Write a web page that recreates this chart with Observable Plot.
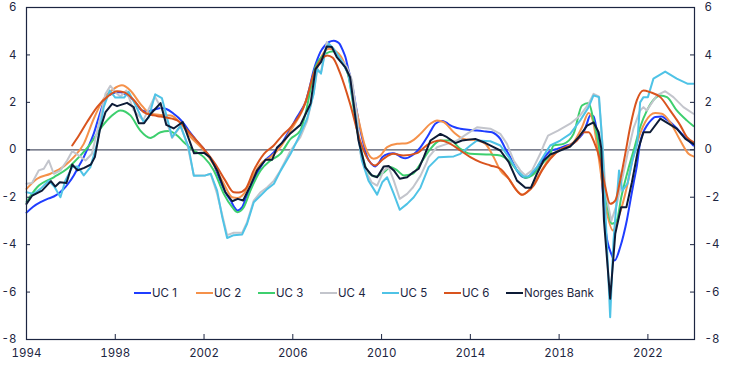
<!DOCTYPE html>
<html><head><meta charset="utf-8">
<script src="https://cdn.jsdelivr.net/npm/d3@7"></script>
<script src="https://cdn.jsdelivr.net/npm/@observablehq/plot@0.6"></script>
<style>
body{margin:0;background:#fff;}
#wrap{position:relative;width:750px;height:366px;font-family:Inter,"Liberation Sans",sans-serif;}
.legend{position:absolute;left:134px;top:286px;display:flex;}
.item{width:62px;flex:0 0 62px;display:flex;align-items:center;font-size:11.5px;color:#1c2541;white-space:nowrap;overflow:visible;}
.sw{width:17px;height:2.5px;margin-right:1px;flex:0 0 17px;display:inline-block;}
</style></head><body><div id="wrap"></div>
<script>
const xTicks = [1994, 1998, 2002, 2006, 2010, 2014, 2018, 2022];
const yTicks = [-8, -6, -4, -2, 0, 2, 4, 6];
const seriesNames = ["UC 1", "UC 2", "UC 3", "UC 4", "UC 5", "UC 6", "Norges Bank"];
const seriesColors = ["#1f3dff", "#f5914a", "#3dcf6e", "#c3c5cc", "#4fc3e6", "#d9541e", "#0d1b36"];

const uc1 = [[1994.0,-2.65],[1994.3,-2.4],[1994.63,-2.21],[1995.0,-2.05],[1995.23,-1.97],[1995.5,-1.8],[1995.68,-1.65],[1995.9,-1.4],[1996.13,-1.08],[1996.35,-0.7],[1996.58,-0.31],[1996.8,0.15],[1997.03,0.68],[1997.25,1.35],[1997.48,2.0],[1997.7,2.3],[1997.86,2.36],[1998.05,2.43],[1998.23,2.43],[1998.45,2.35],[1998.68,2.22],[1998.95,1.95],[1999.2,1.66],[1999.45,1.62],[1999.66,1.66],[1999.85,1.72],[2000.04,1.76],[2000.3,1.72],[2000.63,1.52],[2000.85,1.35],[2001.09,1.1],[2001.3,0.82],[2001.54,0.53],[2001.75,0.28],[2001.99,0.04],[2002.2,-0.25],[2002.44,-0.59],[2002.6,-1.0],[2002.82,-1.51],[2003.0,-1.85],[2003.2,-2.14],[2003.35,-2.4],[2003.5,-2.56],[2003.72,-2.42],[2003.9,-2.0],[2004.1,-1.58],[2004.3,-1.15],[2004.55,-0.73],[2004.75,-0.45],[2005.0,-0.24],[2005.2,-0.05],[2005.44,0.18],[2005.65,0.5],[2005.9,0.89],[2006.19,1.38],[2006.4,1.7],[2006.57,2.0],[2006.75,2.6],[2006.94,3.35],[2007.1,3.8],[2007.24,4.12],[2007.45,4.4],[2007.62,4.54],[2007.84,4.6],[2008.0,4.55],[2008.11,4.47],[2008.25,4.2],[2008.37,3.91],[2008.5,3.4],[2008.67,2.78],[2008.85,1.8],[2009.05,0.81],[2009.2,0.2],[2009.35,-0.31],[2009.55,-0.6],[2009.72,-0.7],[2009.88,-0.55],[2010.03,-0.31],[2010.32,-0.17],[2010.5,-0.15],[2010.7,-0.2],[2010.9,-0.32],[2011.07,-0.36],[2011.37,-0.24],[2011.55,-0.1],[2011.75,0.1],[2012.05,0.53],[2012.25,0.85],[2012.42,1.1],[2012.73,1.21],[2012.9,1.15],[2013.1,1.03],[2013.3,0.95],[2013.55,0.89],[2013.9,0.84],[2014.3,0.81],[2014.7,0.77],[2014.98,0.74],[2015.15,0.65],[2015.35,0.46],[2015.55,0.1],[2015.8,-0.31],[2016.0,-0.7],[2016.18,-0.99],[2016.48,-1.18],[2016.78,-1.01],[2017.0,-0.75],[2017.23,-0.45],[2017.6,-0.06],[2017.85,0.02],[2018.05,0.08],[2018.35,0.18],[2018.65,0.28],[2018.9,0.5],[2019.1,0.74],[2019.25,1.1],[2019.4,1.45],[2019.55,1.42],[2019.68,0.9],[2019.78,0.25],[2019.92,-1.16],[2020.12,-3.54],[2020.35,-4.39],[2020.5,-4.67],[2020.75,-4.11],[2020.9,-3.6],[2021.05,-2.98],[2021.2,-2.2],[2021.35,-1.43],[2021.5,-0.7],[2021.65,0.3],[2021.8,0.75],[2021.96,1.03],[2022.15,1.25],[2022.33,1.38],[2022.63,1.4],[2022.8,1.3],[2023.0,1.17],[2023.25,0.95],[2023.46,0.74],[2023.65,0.55],[2023.83,0.39],[2024.05,0.18]];

const uc2 = [[1994.0,-1.65],[1994.48,-1.22],[1995.08,-1.01],[1995.68,-0.7],[1996.13,-0.31],[1996.58,0.25],[1997.03,1.31],[1997.48,2.15],[1997.93,2.57],[1998.3,2.72],[1998.68,2.5],[1999.13,1.94],[1999.58,1.52],[2000.04,1.47],[2000.5,1.45],[2000.94,1.12],[2001.39,0.55],[2001.99,-0.03],[2002.5,-0.73],[2002.89,-1.43],[2003.27,-2.0],[2003.5,-2.03],[2003.79,-1.86],[2004.17,-1.16],[2004.55,-0.59],[2005.0,-0.31],[2005.44,0.11],[2005.9,0.81],[2006.4,1.6],[2006.94,3.0],[2007.3,3.95],[2007.62,4.26],[2008.07,4.05],[2008.44,3.35],[2008.9,1.52],[2009.27,0.11],[2009.64,-0.38],[2009.95,-0.24],[2010.25,0.11],[2010.7,0.25],[2011.15,0.28],[2011.45,0.42],[2011.75,0.67],[2012.2,1.1],[2012.5,1.24],[2012.8,1.17],[2013.25,0.74],[2013.7,0.46],[2014.3,0.39],[2014.68,0.25],[2015.05,-0.31],[2015.35,-0.87],[2015.73,-1.22],[2016.1,-1.72],[2016.33,-1.9],[2016.63,-1.72],[2017.0,-1.22],[2017.3,-0.73],[2017.6,-0.31],[2018.05,0.0],[2018.65,0.32],[2019.03,0.95],[2019.33,1.55],[2019.55,1.1],[2019.78,-0.31],[2020.1,-2.4],[2020.43,-3.4],[2020.68,-2.84],[2021.05,-1.58],[2021.3,-0.45],[2021.5,0.25],[2021.88,1.17],[2022.33,1.55],[2022.63,1.52],[2023.0,1.17],[2023.46,0.39],[2023.83,-0.17],[2024.05,-0.28]];

const uc3 = [[1994.0,-2.2],[1994.48,-1.58],[1995.23,-1.16],[1995.83,-0.8],[1996.36,-0.31],[1996.88,0.25],[1997.33,0.89],[1997.78,1.38],[1998.23,1.66],[1998.68,1.45],[1999.13,0.81],[1999.58,0.5],[2000.04,0.74],[2000.41,0.79],[2000.79,0.6],[2001.09,0.32],[2001.54,-0.03],[2001.99,-0.31],[2002.44,-0.87],[2002.89,-1.86],[2003.27,-2.42],[2003.5,-2.63],[2003.79,-2.42],[2004.09,-1.72],[2004.55,-0.87],[2005.0,-0.45],[2005.44,-0.17],[2005.9,0.46],[2006.34,0.81],[2006.57,1.52],[2007.02,3.49],[2007.47,4.05],[2007.84,4.16],[2008.1,3.84],[2008.48,3.21],[2008.9,0.81],[2009.35,-0.87],[2009.72,-1.13],[2010.1,-0.95],[2010.4,-0.73],[2010.7,-0.87],[2011.0,-1.08],[2011.4,-1.01],[2011.75,-0.59],[2012.2,0.04],[2012.65,0.39],[2013.1,0.39],[2013.55,0.04],[2014.0,-0.17],[2014.9,-0.2],[2015.35,-0.24],[2015.8,-0.52],[2016.18,-0.95],[2016.48,-1.18],[2016.78,-1.08],[2017.23,-0.59],[2017.6,-0.17],[2017.75,0.18],[2018.2,0.25],[2018.65,0.67],[2019.03,1.87],[2019.33,1.97],[2019.55,1.24],[2019.78,0.25],[2019.95,-0.8],[2020.16,-2.28],[2020.38,-3.12],[2020.6,-2.98],[2020.8,-2.0],[2021.1,-0.87],[2021.4,0.11],[2021.65,0.95],[2021.96,1.66],[2022.26,2.11],[2022.56,2.29],[2022.86,2.22],[2023.3,1.66],[2023.75,1.24],[2024.05,1.0]];

const uc4 = [[1994.0,-1.43],[1994.25,-1.4],[1994.55,-0.87],[1994.78,-0.8],[1995.0,-0.45],[1995.23,-1.01],[1995.53,-0.87],[1995.83,-0.45],[1996.06,-0.06],[1996.36,-0.24],[1996.66,-0.45],[1996.95,-0.17],[1997.26,1.1],[1997.56,2.36],[1997.78,2.7],[1998.0,2.43],[1998.23,2.25],[1998.5,2.5],[1998.83,1.66],[1999.26,1.24],[1999.78,2.25],[2000.17,1.6],[2000.56,0.5],[2000.94,1.0],[2001.24,0.25],[2001.54,-1.08],[2002.06,-1.08],[2002.3,-1.01],[2002.59,-1.86],[2002.82,-2.75],[2003.04,-3.6],[2003.34,-3.5],[2003.72,-3.5],[2003.94,-3.05],[2004.24,-2.14],[2004.55,-1.79],[2004.85,-1.58],[2005.15,-1.3],[2005.44,-0.87],[2005.9,-0.03],[2006.34,0.53],[2006.64,1.2],[2006.94,2.4],[2007.09,3.3],[2007.27,3.28],[2007.53,4.54],[2007.76,4.33],[2008.1,3.9],[2008.44,3.49],[2008.67,2.92],[2008.9,1.38],[2009.05,-0.17],[2009.35,-1.01],[2009.55,-1.37],[2009.8,-1.51],[2010.1,-0.87],[2010.32,-0.73],[2010.55,-1.3],[2010.82,-2.07],[2011.15,-1.86],[2011.42,-1.58],[2011.75,-1.1],[2012.0,-0.6],[2012.12,-0.31],[2012.5,0.11],[2012.95,0.25],[2013.4,0.39],[2013.85,0.67],[2014.3,0.95],[2014.9,0.89],[2015.35,0.67],[2015.65,0.25],[2015.95,-0.45],[2016.25,-0.87],[2016.48,-1.08],[2016.78,-0.87],[2017.15,-0.17],[2017.3,0.18],[2017.5,0.6],[2017.95,0.81],[2018.5,1.1],[2018.95,1.45],[2019.33,1.94],[2019.55,2.36],[2019.78,2.25],[2019.9,0.95],[2020.1,-1.8],[2020.35,-3.0],[2020.6,-2.3],[2020.85,-1.2],[2021.1,-0.1],[2021.35,0.9],[2021.65,1.66],[2021.8,1.8],[2021.95,1.66],[2022.25,2.08],[2022.4,2.29],[2022.78,2.47],[2023.15,2.22],[2023.6,1.8],[2024.05,1.52]];

const uc5 = [[1994.0,-1.79],[1994.33,-1.86],[1994.63,-1.65],[1995.0,-1.3],[1995.25,-1.55],[1995.53,-2.0],[1995.75,-1.3],[1996.06,-0.73],[1996.3,-0.7],[1996.58,-1.08],[1996.88,-0.73],[1997.18,0.25],[1997.48,1.8],[1997.75,2.5],[1998.0,2.2],[1998.4,2.2],[1998.6,2.45],[1998.85,2.0],[1999.28,1.17],[1999.5,1.35],[1999.8,2.34],[2000.1,2.18],[2000.56,0.53],[2000.94,1.02],[2001.3,0.11],[2001.54,-1.1],[2002.06,-1.08],[2002.3,-1.01],[2002.59,-1.72],[2002.82,-2.84],[2003.04,-3.72],[2003.34,-3.6],[2003.72,-3.57],[2003.94,-3.12],[2004.24,-2.21],[2004.55,-1.93],[2004.85,-1.65],[2005.15,-1.43],[2005.44,-0.9],[2005.9,-0.17],[2006.2,0.4],[2006.64,1.31],[2006.94,2.36],[2007.09,3.42],[2007.27,3.21],[2007.47,4.19],[2007.62,4.47],[2007.84,4.26],[2008.14,3.84],[2008.5,3.21],[2008.81,1.52],[2009.11,-0.45],[2009.41,-1.3],[2009.8,-1.89],[2010.03,-1.37],[2010.25,-1.16],[2010.55,-1.86],[2010.82,-2.53],[2011.15,-2.28],[2011.45,-2.0],[2011.75,-1.6],[2012.12,-0.73],[2012.57,-0.31],[2013.25,-0.28],[2013.55,-0.17],[2014.0,0.18],[2014.3,0.39],[2014.9,0.36],[2015.35,0.18],[2015.73,-0.31],[2016.1,-0.87],[2016.4,-1.13],[2016.63,-1.13],[2017.0,-0.73],[2017.45,-0.03],[2017.6,0.18],[2018.05,0.39],[2018.5,0.67],[2018.95,1.24],[2019.33,1.8],[2019.55,2.29],[2019.8,2.22],[2019.95,0.2],[2020.3,-7.06],[2020.45,-3.83],[2020.7,-0.87],[2020.85,-1.72],[2021.08,-1.43],[2021.3,-0.45],[2021.52,0.25],[2021.65,2.0],[2021.8,2.22],[2022.0,2.22],[2022.25,3.0],[2022.78,3.3],[2023.3,3.0],[2023.8,2.78],[2024.05,2.78]];

const uc6 = [[1996.06,0.18],[1996.36,0.6],[1996.73,1.17],[1997.18,1.8],[1997.63,2.22],[1998.08,2.47],[1998.38,2.43],[1998.83,2.1],[1999.28,1.59],[1999.73,1.45],[2000.04,1.4],[2000.79,1.24],[2001.39,0.67],[2001.99,0.04],[2002.5,-0.59],[2002.96,-1.3],[2003.34,-1.79],[2003.57,-1.8],[2003.87,-1.65],[2004.24,-0.87],[2004.7,-0.17],[2005.14,0.18],[2005.52,0.6],[2005.9,0.95],[2006.57,2.0],[2006.94,3.21],[2007.32,3.85],[2007.55,3.98],[2007.8,3.88],[2008.14,3.21],[2008.58,1.94],[2009.03,0.39],[2009.33,-0.31],[2009.7,-0.66],[2010.08,-0.38],[2010.53,-0.17],[2010.98,-0.24],[2011.6,-0.14],[2012.05,0.2],[2012.65,0.39],[2013.1,0.25],[2013.55,-0.03],[2014.0,-0.31],[2014.45,-0.52],[2014.9,-0.66],[2015.35,-0.8],[2015.73,-1.22],[2016.03,-1.65],[2016.33,-1.9],[2016.55,-1.79],[2016.85,-1.51],[2017.23,-0.87],[2017.6,-0.38],[2018.05,0.0],[2018.5,0.18],[2018.8,0.39],[2019.1,0.74],[2019.33,0.74],[2019.55,0.39],[2019.85,-0.45],[2020.08,-1.58],[2020.3,-2.28],[2020.53,-2.14],[2020.75,-1.3],[2020.98,-0.17],[2021.2,0.95],[2021.5,2.08],[2021.8,2.5],[2022.1,2.43],[2022.56,2.22],[2023.0,1.66],[2023.46,1.03],[2023.76,0.53],[2024.05,0.32]];

const norgesBank = [[1994.0,-2.28],[1994.26,-1.93],[1994.7,-1.72],[1995.1,-1.32],[1995.3,-1.55],[1995.5,-1.37],[1995.8,-1.4],[1996.06,-0.62],[1996.3,-0.87],[1996.6,-0.76],[1996.9,-0.62],[1997.08,-0.31],[1997.3,0.81],[1997.56,1.59],[1997.86,1.94],[1998.08,1.84],[1998.53,1.98],[1998.83,1.8],[1999.06,1.12],[1999.3,1.12],[1999.6,1.52],[2000.04,1.97],[2000.3,1.05],[2000.63,0.9],[2001.04,1.17],[2001.55,-0.15],[2001.99,-0.12],[2002.26,-0.31],[2002.59,-0.87],[2002.96,-1.79],[2003.27,-2.17],[2003.52,-2.07],[2003.76,-2.14],[2004.09,-1.51],[2004.39,-0.87],[2004.77,-0.42],[2005.07,-0.42],[2005.29,0.1],[2005.52,0.3],[2005.9,0.7],[2006.34,1.05],[2006.57,1.5],[2006.8,1.95],[2007.02,3.4],[2007.27,3.7],[2007.53,4.36],[2007.76,4.33],[2007.98,3.91],[2008.36,3.49],[2008.58,3.06],[2008.96,0.39],[2009.26,-0.73],[2009.56,-1.08],[2009.8,-1.16],[2010.1,-0.7],[2010.32,-0.68],[2010.55,-0.87],[2010.82,-1.22],[2011.15,-1.16],[2011.42,-0.95],[2011.67,-0.8],[2011.9,-0.31],[2012.2,0.39],[2012.65,0.67],[2012.95,0.53],[2013.33,0.28],[2013.62,0.39],[2014.22,0.46],[2014.6,0.32],[2014.98,0.14],[2015.35,-0.03],[2015.73,-0.52],[2016.1,-1.3],[2016.48,-1.6],[2016.73,-1.6],[2017.0,-1.01],[2017.3,-0.45],[2017.6,-0.2],[2018.05,-0.03],[2018.5,0.14],[2018.88,0.53],[2019.26,1.02],[2019.55,1.16],[2019.78,0.74],[2019.9,0.05],[2020.02,-2.98],[2020.3,-6.28],[2020.53,-3.54],[2020.79,-2.42],[2021.03,-2.42],[2021.28,-1.37],[2021.55,-0.03],[2021.8,0.74],[2022.1,0.74],[2022.56,1.31],[2022.93,1.1],[2023.3,0.89],[2023.69,0.46],[2024.05,0.25]];

const seriesData = [uc1, uc2, uc3, uc4, uc5, uc6, norgesBank];
const smoothFlags = [true, true, true, false, false, true, false];
const navy = "#1c2541";

const lineMarks = seriesData.map((s, i) => Plot.line(s, {
  x: d => d[0], y: d => d[1],
  stroke: seriesColors[i], strokeWidth: 2,
  curve: smoothFlags[i] ? "monotone-x" : "linear"
}));

const chart = Plot.plot({
  width: 750, height: 366,
  marginLeft: 26, marginRight: 56, marginTop: 7, marginBottom: 27,
  style: {fontFamily: "Inter, 'Liberation Sans', sans-serif", fontSize: "11.5px", color: navy, background: "#fff"},
  x: {domain: [1994, 2024.1]},
  y: {domain: [-8, 6]},
  marks: [
    Plot.ruleY([0], {stroke: "#50566a", strokeWidth: 1.2}),
    ...lineMarks,
    Plot.frame({stroke: navy, strokeWidth: 1.2}),
    Plot.tickX(xTicks, {x: d => d, stroke: navy, insetTop: 327}),
    Plot.tickY(yTicks, {y: d => d, stroke: navy, insetRight: 664}),
    Plot.tickY(yTicks, {y: d => d, stroke: navy, insetLeft: 664}),
    Plot.axisX(xTicks, {tickSize: 0, tickPadding: 9, tickFormat: d => String(d), label: null}),
    Plot.axisY(yTicks, {anchor: "left", tickSize: 0, tickPadding: 10, tickFormat: d => String(d), label: null}),
    Plot.axisY(yTicks, {anchor: "right", tickSize: 0, tickPadding: 10, tickFormat: d => String(d), label: null})
  ]
});

const wrap = document.getElementById("wrap");
wrap.appendChild(chart);
const leg = document.createElement("div");
leg.className = "legend";
seriesNames.forEach((n, i) => {
  const it = document.createElement("div");
  it.className = "item";
  const sw = document.createElement("span");
  sw.className = "sw";
  sw.style.background = seriesColors[i];
  it.appendChild(sw);
  it.appendChild(document.createTextNode(n));
  leg.appendChild(it);
});
wrap.appendChild(leg);
</script></body></html>
